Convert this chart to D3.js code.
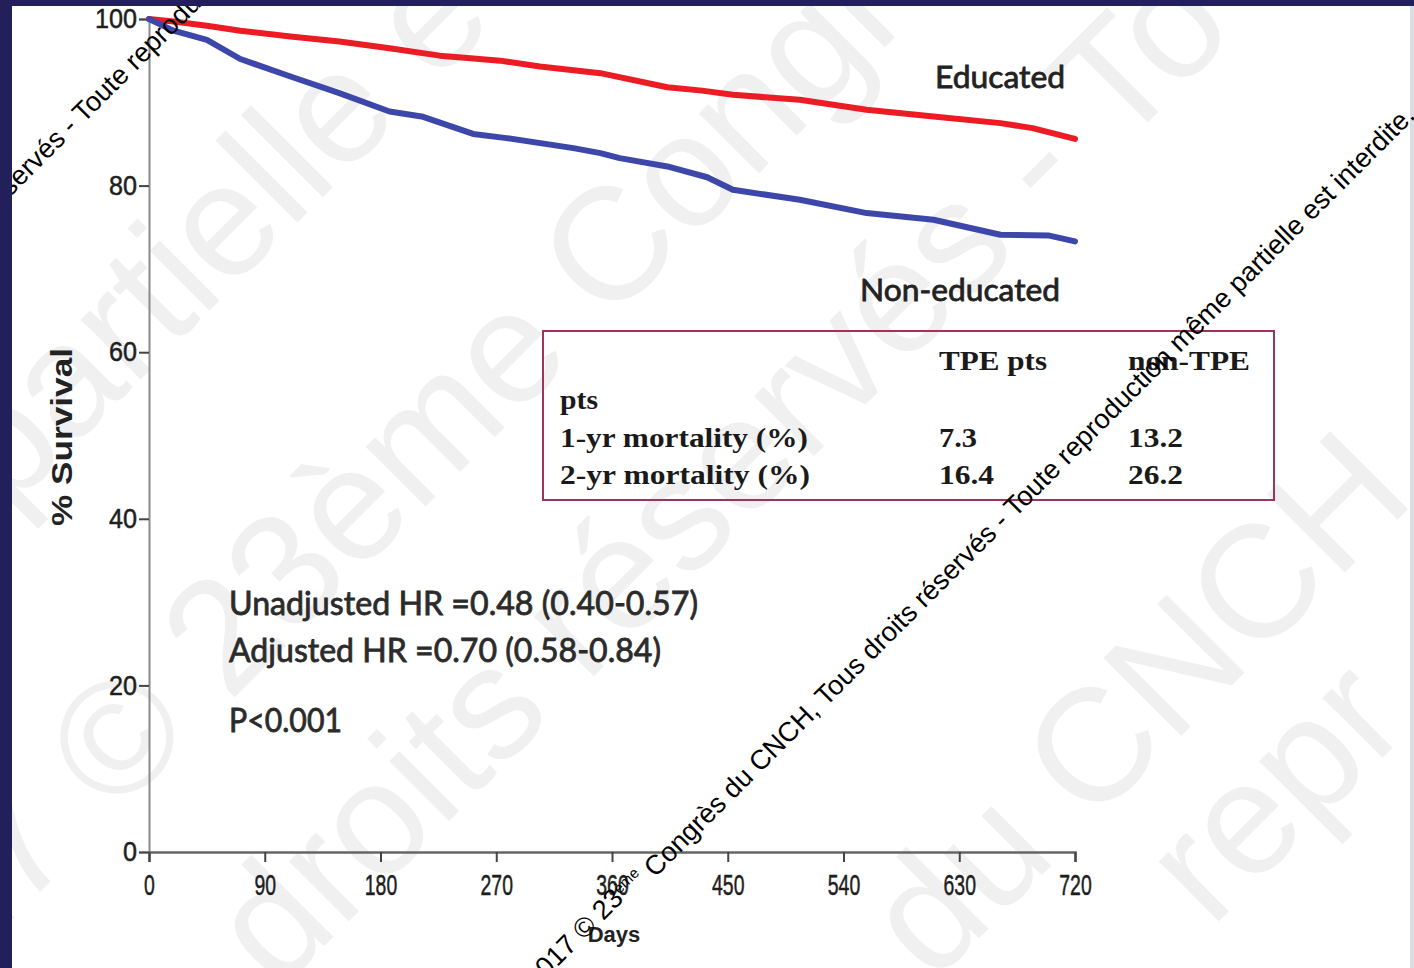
<!DOCTYPE html>
<html>
<head>
<meta charset="utf-8">
<script src="https://cdn.jsdelivr.net/npm/d3@7"></script>
<style>
  body { margin: 0; background: #fff; }
  svg { display: block; }
</style>
</head>
<body>
<svg id="chart" width="1414" height="968"></svg>
<script>
// Kaplan-Meier curves (days, % survival)
const eduDays = [0, 19, 45, 71, 110, 148, 187, 226, 250, 273, 304, 351, 403, 430, 454, 506, 558, 610, 662, 687, 720];
const eduSurv = [100, 99.7, 99.2, 98.6, 97.9, 97.3, 96.5, 95.6, 95.3, 95.0, 94.3, 93.5, 91.8, 91.4, 90.9, 90.3, 89.1, 88.3, 87.5, 86.9, 85.6];
const nonDays = [0, 19, 45, 71, 110, 148, 187, 212, 252, 278, 330, 351, 366, 403, 434, 454, 506, 558, 610, 662, 700, 720];
const nonSurv = [100, 98.6, 97.5, 95.2, 93.1, 91.1, 88.9, 88.3, 86.2, 85.7, 84.5, 83.9, 83.3, 82.3, 81.0, 79.5, 78.3, 76.7, 75.9, 74.1, 74.0, 73.3];

const xTicks = [0, 90, 180, 270, 360, 450, 540, 630, 720];
const yTicks = [0, 20, 40, 60, 80, 100];

const tableHead = ['TPE pts', 'non-TPE'];
const tableRows = [
  ['pts', '', ''],
  ['1-yr mortality (%)', '7.3', '13.2'],
  ['2-yr mortality (%)', '16.4', '26.2']
];
const statLines = ['Unadjusted  HR =0.48 (0.40-0.57)', 'Adjusted HR =0.70 (0.58-0.84)', 'P<0.001'];

const svg = d3.select('#chart');
const SANS = 'Liberation Sans, Arial, sans-serif';

// slide frame
svg.append('rect').attr('width', 1414).attr('height', 968).attr('fill', '#fff');
svg.append('rect').attr('x', 1410).attr('width', 4).attr('height', 968).attr('fill', '#dcdce4');

// big faint watermark bands
const bigWm = [
  { x: 7, y: 513, t: 'partielle e' },
  { x: -43, y: 975, t: '17 © 23ème  Congr' },
  { x: 278, y: 992, t: 'droits réservés - To' },
  { x: 933, y: 984, t: 'du CNCH' },
  { x: 1211, y: 929, t: 'repr' }
];
svg.append('g').selectAll('text').data(bigWm).join('text')
  .attr('transform', (d) => 'translate(' + d.x + ',' + d.y + ') rotate(-45)')
  .attr('font-family', SANS)
  .attr('font-size', 160)
  .attr('fill', '#f0f0f0')
  .text((d) => d.t);

// scales
const x = d3.scaleLinear().domain([0, 720]).range([149, 1075]);
const y = d3.scaleLinear().domain([0, 100]).range([852, 19]);

// y axis
const yAxis = svg.append('g')
  .attr('transform', 'translate(149,0)')
  .call(d3.axisLeft(y).tickValues(yTicks).tickSize(10).tickPadding(2));
yAxis.select('.domain').attr('stroke', '#8a8a8a').attr('stroke-width', 2);
yAxis.selectAll('.tick line').attr('stroke', '#444').attr('stroke-width', 2);
yAxis.selectAll('.tick text')
  .attr('font-family', SANS).attr('font-size', 27)
  .attr('fill', '#1e1e1e').attr('stroke', '#1e1e1e').attr('stroke-width', 0.5)
  .attr('textLength', (d) => String(d).length * 14).attr('lengthAdjust', 'spacingAndGlyphs');

// x axis
const xAxis = svg.append('g')
  .attr('transform', 'translate(0,852)')
  .call(d3.axisBottom(x).tickValues(xTicks).tickSize(10));
xAxis.select('.domain').attr('stroke', '#666').attr('stroke-width', 2.5);
xAxis.selectAll('.tick line').attr('stroke', '#444').attr('stroke-width', 2);
xAxis.selectAll('.tick text')
  .attr('y', 43).attr('dy', null)
  .attr('font-family', SANS).attr('font-size', 30)
  .attr('fill', '#1e1e1e').attr('stroke', '#1e1e1e').attr('stroke-width', 0.5)
  .attr('textLength', (d) => String(d).length * 10.8).attr('lengthAdjust', 'spacingAndGlyphs');

// axis titles
svg.append('text')
  .attr('x', 614).attr('y', 942)
  .attr('text-anchor', 'middle')
  .attr('font-family', SANS)
  .attr('font-weight', 'bold').attr('font-size', 22).attr('fill', '#222')
  .text('Days');
svg.append('text')
  .attr('transform', 'translate(72,437) rotate(-90)')
  .attr('text-anchor', 'middle')
  .attr('font-family', SANS)
  .attr('font-weight', 'bold').attr('font-size', 30).attr('fill', '#222')
  .attr('textLength', 178).attr('lengthAdjust', 'spacingAndGlyphs')
  .text('% Survival');

// curves
const line = d3.line().x((d) => x(d[0])).y((d) => y(d[1]));
const series = [
  { days: eduDays, surv: eduSurv, color: '#ec1c24' },
  { days: nonDays, surv: nonSurv, color: '#3d47aa' }
];
svg.append('g').selectAll('path').data(series).join('path')
  .attr('d', (s) => line(s.days.map((d, i) => [d, s.surv[i]])))
  .attr('fill', 'none')
  .attr('stroke', (s) => s.color)
  .attr('stroke-width', 6)
  .attr('stroke-linejoin', 'round')
  .attr('stroke-linecap', 'round');

// curve labels
const calib = (sel) => sel
  .attr('font-family', 'Lato, sans-serif').attr('font-size', 31)
  .attr('fill', '#222').attr('stroke', '#222').attr('stroke-width', 0.8)
  .attr('lengthAdjust', 'spacingAndGlyphs');
svg.append('text').attr('x', 935).attr('y', 88)
  .call(calib).attr('textLength', 130)
  .text('Educated');
svg.append('text').attr('x', 860).attr('y', 301)
  .call(calib).attr('textLength', 200)
  .text('Non-educated');

// mortality table
const tbl = svg.append('g');
tbl.append('rect')
  .attr('x', 543).attr('y', 331).attr('width', 731).attr('height', 169)
  .attr('fill', 'none').attr('stroke', '#a0325f').attr('stroke-width', 2);
const serif = (sel) => sel
  .attr('font-family', 'Liberation Serif, Times New Roman, serif')
  .attr('font-weight', 'bold').attr('font-size', 28).attr('fill', '#1a1a1a')
  .attr('lengthAdjust', 'spacingAndGlyphs');
const cellW = { 'TPE pts': 108, 'non-TPE': 122, 'pts': 38, '1-yr mortality (%)': 248, '2-yr mortality (%)': 250,
  '7.3': 38, '13.2': 55, '16.4': 55, '26.2': 55 };
tbl.selectAll('.head').data(tableHead).join('text').attr('class', 'head')
  .attr('x', (d, i) => [939, 1128][i]).attr('y', 370)
  .call(serif).attr('textLength', (d) => cellW[d]).text((d) => d);
const rowY = [409, 447, 484];
tableRows.forEach((row, r) => {
  row.forEach((cell, c) => {
    if (!cell) return;
    tbl.append('text')
      .attr('x', [560, 939, 1128][c]).attr('y', rowY[r])
      .call(serif).attr('textLength', cellW[cell]).text(cell);
  });
});

// hazard ratio text
svg.append('g').selectAll('text').data(statLines).join('text')
  .attr('x', 229).attr('y', (d, i) => [615, 662, 732][i])
  .call(calib).attr('font-size', 32).attr('fill', '#2b2b2b').attr('stroke', '#2b2b2b')
  .attr('textLength', (d, i) => [469, 432, 113][i])
  .text((d) => d);

// black copyright watermark lines (angled at -45deg)
const wmLines = [{ anchor: [578, 935], at: '©' }, { anchor: [62, 125], at: '- Toute' }];
const wmEnd = [1410, 110];
const c45 = Math.SQRT1_2;

const wmText = (g) => {
  const t = g.append('text')
    .attr('font-family', SANS).attr('font-size', 27).attr('fill', '#000');
  t.append('tspan').text('2017 © 23');
  t.append('tspan').attr('font-size', '0.55em').attr('dy', '-0.5em').text('ème');
  t.append('tspan').attr('dy', '0.5em').text(' Congrès du CNCH, Tous droits réservés - Toute reproduction même partielle est interdite.');
  return t;
};
const full = '2017 © 23ème Congrès du CNCH, Tous droits réservés - Toute reproduction même partielle est interdite.';

// size the main line so that it spans from the © mark to the end of the slide line
const probe = wmText(svg.append('g'));
const node = probe.node();
const iC = full.indexOf('©');
let toEnd = node.getComputedTextLength() - node.getSubStringLength(0, iC);
const want = Math.hypot(wmEnd[0] - wmLines[0].anchor[0], wmEnd[1] - wmLines[0].anchor[1]);
const fs = 27 * want / toEnd;
probe.attr('font-size', fs);
probe.remove();

wmLines.forEach((w) => {
  const t = wmText(svg.append('g')).attr('font-size', fs);
  const n = t.node();
  const i = full.indexOf(w.at);
  const off = n.getSubStringLength(0, i);
  // baseline sits slightly below glyph middle
  const bx = w.anchor[0] - off * c45 + fs * 0.3 * c45;
  const by = w.anchor[1] + off * c45 + fs * 0.3 * c45;
  t.attr('transform', 'translate(' + bx + ',' + by + ') rotate(-45)');
});

// navy frame on top
svg.append('rect').attr('width', 12).attr('height', 968).attr('fill', '#22205a');
svg.append('rect').attr('width', 1414).attr('height', 6).attr('fill', '#22205a');
</script>
</body>
</html>
